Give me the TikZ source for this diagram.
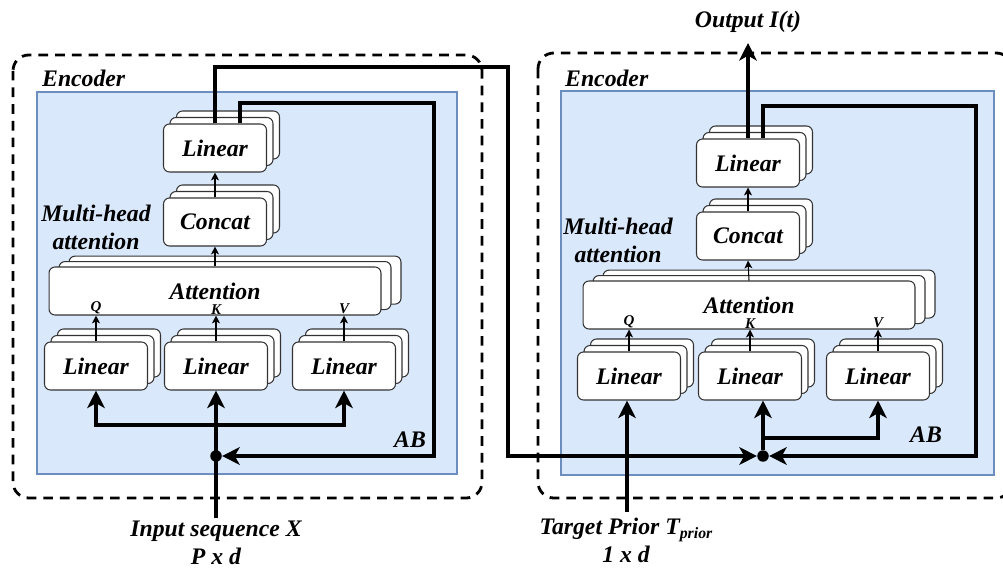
\documentclass[tikz,border=0pt]{standalone}
\usepackage{fontspec}
\setmainfont{Liberation Serif}
\usetikzlibrary{arrows.meta,shadows,calc}

\definecolor{fondbleu}{HTML}{DAE8FC}
\definecolor{bordbleu}{HTML}{6C8EBF}
\definecolor{bordbloc}{HTML}{333333}

\tikzset{
  txt/.style={font=\bfseries\itshape\fontsize{13.5}{16}\selectfont},
  qkv/.style={font=\bfseries\itshape\fontsize{8.5}{9}\selectfont, inner sep=0.5pt},
  cadre/.style={dash pattern=on 5.5pt off 4pt, line width=1.6pt, rounded corners=9pt},
  fondab/.style={fill=fondbleu, draw=bordbleu, line width=0.6pt},
  bloc/.style={txt, draw=bordbloc, fill=white, line width=0.6pt, rounded corners=3.4pt,
    minimum width=2.06cm, minimum height=0.96cm, inner sep=0pt,
    copy shadow={shadow xshift=7.4pt, shadow yshift=7.4pt},
    copy shadow={shadow xshift=3.7pt, shadow yshift=3.7pt}},
  blocatt/.style={txt, draw=bordbloc, fill=white, line width=0.6pt, rounded corners=3.4pt,
    minimum width=6.64cm, minimum height=0.96cm, inner sep=0pt,
    copy shadow={shadow xshift=11.4pt, shadow yshift=6.2pt},
    copy shadow={shadow xshift=5.7pt, shadow yshift=3.1pt}},
  point/.style={circle, fill=black, minimum size=0.23cm, inner sep=0pt},
  liaison/.style={line width=1.9pt},
  fleche/.style={liaison, -{Stealth[length=10pt,width=10pt,inset=2.8pt]}},
  fine/.style={line width=0.6pt, -{Stealth[length=4.5pt,width=4.5pt,inset=1.2pt]}},
}

\begin{document}
\begin{tikzpicture}[x=0.02cm,y=-0.02cm]
  \clip (0,0) rectangle (1003,570);

  % Cadres pointillés et blocs AB
  \draw[cadre] (13,55) rectangle (482,498);
  \draw[cadre] (538,53) rectangle (1012,498);
  \draw[fondab] (37,92) rectangle (457,474);
  \draw[fondab] (561,91) rectangle (994,475);

  \node[txt, anchor=west] (encL) at (36,78) {Encoder};
  \node[txt, anchor=west] (encR) at (559,78) {Encoder};
  \node[txt, align=center] (mhaL) at (96,227) {Multi-head\\attention};
  \node[txt, align=center] (mhaR) at (618,240) {Multi-head\\attention};
  \node[txt] (abL) at (410,440) {AB};
  \node[txt] (abR) at (926,435) {AB};

  % Encodeur gauche
  \node[bloc] (linTL) at (215,148) {Linear};
  \node[bloc] (catL) at (215,222) {Concat};
  \node[blocatt] (attL) at (215,291) {Attention};
  \node[bloc] (linQL) at (96,366) {Linear};
  \node[bloc] (linKL) at (216,366) {Linear};
  \node[bloc] (linVL) at (344,366) {Linear};

  \draw[fine] (attL.north) -- (catL.south);
  \draw[fine] (catL.north) -- (linTL.south);
  \foreach \c in {Q,K,V} {
    \draw[fine] (lin\c L.north) -- (lin\c L.north |- attL.south) node[qkv, above] (lab\c L) {\c};
  }

  \node[point] (ptL) at (216,456) {};
  \coordinate (entreeL) at (216,518);
  \coordinate (brL) at (216,425);
  \coordinate (retL) at (434,103);
  \coordinate (passage) at (508,67);
  \draw[fleche] (entreeL) -- (entreeL |- linKL.south);
  \draw[fleche] (brL) -| (linQL.south);
  \draw[fleche] (brL) -| (linVL.south);
  \draw[fleche] ($(linTL.north)+(25,0)$) |- (retL) |- (ptL);
  \node[txt, align=center] (lblX) at (216,543) {Input sequence X\\P x d};

  % Encodeur droit
  \node[bloc] (linTR) at (748,163) {Linear};
  \node[bloc] (catR) at (748,236) {Concat};
  \node[blocatt] (attR) at (749,305) {Attention};
  \node[bloc] (linQR) at (629,376) {Linear};
  \node[bloc] (linKR) at (750,376) {Linear};
  \node[bloc] (linVR) at (878,376) {Linear};

  \draw[fine] (attR.north) -- (catR.south);
  \draw[fine] (catR.north) -- (linTR.south);
  \foreach \c in {Q,K,V} {
    \draw[fine] (lin\c R.north) -- (lin\c R.north |- attR.south) node[qkv, above] (lab\c R) {\c};
  }

  \node[point] (ptR) at (763,456) {};
  \coordinate (entreeR) at (627,512);
  \coordinate (brR) at (763,438);
  \coordinate (retR) at (976,106);
  \coordinate (sortie) at (748,43);
  \draw[fleche] (entreeR) -- (entreeR |- linQR.south);
  \draw[fleche] (ptR) -- (ptR |- linKR.south);
  \draw[fleche] (brR) -| (linVR.south);
  \draw[fleche] ($(linTR.north)+(15,0)$) |- (retR) |- (ptR);
  \draw[fleche] (linTR.north) -- (sortie);
  \node[txt] (lblOut) at (748,22) {Output I(t)};
  \node[txt, align=center] (lblT) at (626,540) {Target Prior T\raisebox{-2.5pt}{\fontsize{9}{9}\selectfont prior}\\1 x d};

  % Liaison entre les deux encodeurs
  \draw[fleche] (linTL.north) |- (passage) |- (ptR);
\end{tikzpicture}
\end{document}
